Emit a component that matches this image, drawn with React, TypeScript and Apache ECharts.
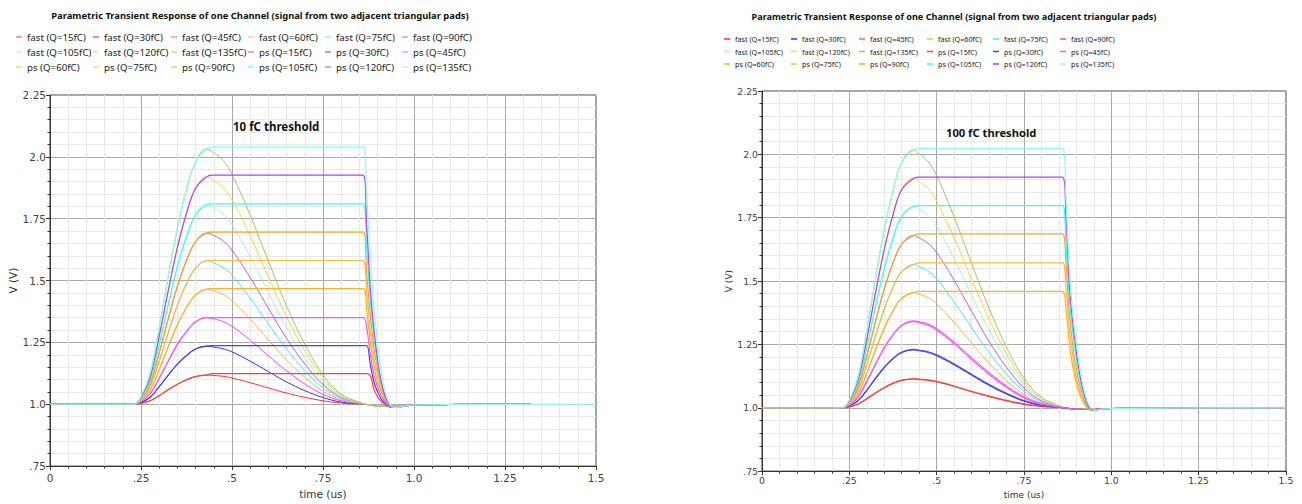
import React, { useEffect, useRef } from 'react';
import * as echarts from 'echarts';

// ---------- labels ----------
const seriesNames = [
  'fast (Q=15fC)', 'fast (Q=30fC)', 'fast (Q=45fC)', 'fast (Q=60fC)', 'fast (Q=75fC)', 'fast (Q=90fC)',
  'fast (Q=105fC)', 'fast (Q=120fC)', 'fast (Q=135fC)',
  'ps (Q=15fC)', 'ps (Q=30fC)', 'ps (Q=45fC)', 'ps (Q=60fC)', 'ps (Q=75fC)', 'ps (Q=90fC)',
  'ps (Q=105fC)', 'ps (Q=120fC)', 'ps (Q=135fC)',
];
const seriesColors = [
  '#ff3030', '#3030ff', '#ff40ff', '#ffb347', '#40eeee', '#b060f0', '#a8f2d6', '#ffd040', '#99c864',
  '#ff4040', '#4040ff', '#ff50ff', '#ffb020', '#ffb83c', '#ffa418', '#30ffff', '#b040ff', '#90ffd8',
];
const titleText = 'Parametric Transient Response of one Channel (signal from two adjacent triangular pads)';
const notes = ['10 fC threshold', '100 fC threshold'];
const xTickLabels = ['0', '.25', '.5', '.75', '1.0', '1.25', '1.5'];
const yTickLabels = ['.75', '1.0', '1.25', '1.5', '1.75', '2.0', '2.25'];
const xName = 'time (us)';
const yName = 'V (V)';

// ---------- left panel (10 fC threshold) ----------
const tFastL = [0, 0.23, 0.25, 0.275, 0.3, 0.325, 0.35, 0.375, 0.4, 0.43, 0.45, 0.475, 0.5, 0.55, 0.6, 0.65, 0.7, 0.75, 0.8, 0.85, 0.875, 0.9, 0.95, 1.0, 1.1, 1.32];
const fast15L = [1, 1, 1.004, 1.014, 1.035, 1.059, 1.081, 1.099, 1.112, 1.118, 1.116, 1.113, 1.106, 1.087, 1.066, 1.045, 1.028, 1.014, 1.005, 1.001, 0.998, 0.993, 0.992, 0.996, 0.999, 1.0];
const fast30L = [1, 1, 1.007, 1.028, 1.071, 1.118, 1.162, 1.197, 1.223, 1.235, 1.231, 1.224, 1.212, 1.174, 1.132, 1.09, 1.055, 1.027, 1.009, 1.002, 0.998, 0.993, 0.992, 0.996, 0.999, 1.0];
const fast45L = [1, 1, 1.011, 1.042, 1.105, 1.175, 1.242, 1.294, 1.333, 1.35, 1.345, 1.334, 1.315, 1.259, 1.196, 1.135, 1.082, 1.04, 1.014, 1.003, 0.998, 0.993, 0.992, 0.996, 0.999, 1.0];
const fast60L = [1, 1, 1.014, 1.056, 1.14, 1.233, 1.321, 1.391, 1.442, 1.465, 1.458, 1.444, 1.419, 1.344, 1.26, 1.179, 1.109, 1.053, 1.019, 1.004, 0.998, 0.993, 0.992, 0.996, 0.999, 1.0];
const fast75L = [1, 1, 1.017, 1.07, 1.174, 1.29, 1.4, 1.487, 1.551, 1.58, 1.571, 1.554, 1.522, 1.429, 1.325, 1.223, 1.136, 1.067, 1.023, 1.005, 0.998, 0.993, 0.992, 0.996, 0.999, 1.0];
const fast90L = [1, 1, 1.021, 1.083, 1.208, 1.346, 1.477, 1.581, 1.657, 1.692, 1.682, 1.661, 1.623, 1.512, 1.388, 1.266, 1.163, 1.08, 1.028, 1.006, 0.998, 0.993, 0.992, 0.996, 0.999, 1.0];
const fast105L = [1, 1, 1.024, 1.097, 1.242, 1.403, 1.556, 1.677, 1.766, 1.806, 1.794, 1.77, 1.725, 1.596, 1.451, 1.31, 1.189, 1.093, 1.032, 1.006, 0.998, 0.993, 0.992, 0.996, 0.999, 1.0];
const fast120L = [1, 1, 1.028, 1.11, 1.276, 1.46, 1.634, 1.772, 1.873, 1.919, 1.905, 1.878, 1.827, 1.68, 1.515, 1.354, 1.216, 1.106, 1.037, 1.007, 0.998, 0.993, 0.992, 0.996, 0.999, 1.0];
const fast135L = [1, 1, 1.031, 1.124, 1.31, 1.516, 1.712, 1.867, 1.98, 2.032, 2.017, 1.986, 1.929, 1.764, 1.578, 1.397, 1.243, 1.119, 1.041, 1.008, 0.998, 0.993, 0.992, 0.996, 0.999, 1.0];

const tPsL = [0, 0.23, 0.25, 0.275, 0.3, 0.325, 0.35, 0.375, 0.4, 0.43, 0.445, 0.86, 0.87, 0.88, 0.89, 0.9, 0.91, 0.92, 0.93, 0.94, 0.95, 0.97, 1.0, 1.1, 1.32];
const tPsL135 = [0, 0.23, 0.25, 0.275, 0.3, 0.325, 0.35, 0.375, 0.4, 0.43, 0.445, 0.86, 0.87, 0.88, 0.89, 0.9, 0.91, 0.92, 0.93, 0.94, 0.95, 0.97, 1.0, 1.1, 1.5];
const ps15L = [1, 1, 1.004, 1.014, 1.035, 1.059, 1.081, 1.099, 1.112, 1.118, 1.124, 1.124, 1.124, 1.115, 1.06, 1.03, 1.012, 1.0, 0.99, 0.987, 0.987, 0.992, 0.997, 0.999, 1.0];
const ps30L = [1, 1, 1.007, 1.028, 1.071, 1.118, 1.162, 1.197, 1.223, 1.235, 1.237, 1.237, 1.237, 1.16, 1.09, 1.05, 1.022, 1.006, 0.993, 0.987, 0.987, 0.992, 0.997, 0.999, 1.0];
const ps45L = [1, 1, 1.011, 1.042, 1.105, 1.175, 1.242, 1.294, 1.333, 1.35, 1.35, 1.35, 1.31, 1.2, 1.12, 1.07, 1.035, 1.012, 0.995, 0.987, 0.987, 0.992, 0.997, 0.999, 1.0];
const ps60L = [1, 1, 1.014, 1.056, 1.14, 1.233, 1.321, 1.391, 1.442, 1.465, 1.467, 1.467, 1.38, 1.25, 1.155, 1.09, 1.048, 1.02, 0.998, 0.988, 0.987, 0.992, 0.997, 0.999, 1.0];
const ps75L = [1, 1, 1.017, 1.07, 1.174, 1.29, 1.4, 1.487, 1.551, 1.58, 1.581, 1.581, 1.45, 1.3, 1.19, 1.115, 1.06, 1.025, 1.0, 0.988, 0.987, 0.992, 0.997, 0.999, 1.0];
const ps90L = [1, 1, 1.021, 1.083, 1.208, 1.346, 1.477, 1.581, 1.657, 1.692, 1.696, 1.696, 1.53, 1.36, 1.23, 1.14, 1.075, 1.03, 1.002, 0.988, 0.987, 0.992, 0.997, 0.999, 1.0];
const ps105L = [1, 1, 1.024, 1.097, 1.242, 1.403, 1.556, 1.677, 1.766, 1.806, 1.81, 1.81, 1.62, 1.42, 1.27, 1.165, 1.085, 1.035, 1.005, 0.989, 0.987, 0.992, 0.997, 0.999, 1.0];
const ps120L = [1, 1, 1.028, 1.11, 1.276, 1.46, 1.634, 1.772, 1.873, 1.919, 1.926, 1.926, 1.72, 1.47, 1.3, 1.18, 1.09, 1.035, 1.003, 0.988, 0.987, 0.992, 0.997, 0.999, 1.0];
const ps135L = [1, 1, 1.031, 1.124, 1.31, 1.516, 1.712, 1.867, 1.98, 2.032, 2.04, 2.04, 1.84, 1.6, 1.39, 1.245, 1.135, 1.055, 1.01, 0.99, 0.987, 0.992, 0.997, 0.999, 1.0];

// ---------- right panel (100 fC threshold) ----------
const tFastR = [0, 0.23, 0.25, 0.275, 0.3, 0.325, 0.35, 0.375, 0.4, 0.435, 0.45, 0.475, 0.5, 0.55, 0.6, 0.65, 0.7, 0.75, 0.8, 0.85, 0.875, 0.9, 0.95, 1.0, 1.2, 1.5];
const fast15R = [1, 1, 1.003, 1.014, 1.034, 1.057, 1.078, 1.095, 1.107, 1.113, 1.111, 1.108, 1.102, 1.084, 1.063, 1.044, 1.027, 1.013, 1.005, 1.001, 0.998, 0.994, 0.993, 0.997, 0.999, 1.0];
const fast30R = [1, 1, 1.007, 1.027, 1.068, 1.114, 1.157, 1.192, 1.217, 1.228, 1.225, 1.218, 1.205, 1.169, 1.128, 1.088, 1.054, 1.026, 1.009, 1.002, 0.998, 0.994, 0.993, 0.997, 0.999, 1.0];
const fast45R = [1, 1, 1.01, 1.041, 1.102, 1.17, 1.235, 1.286, 1.323, 1.34, 1.335, 1.325, 1.306, 1.252, 1.19, 1.131, 1.08, 1.039, 1.014, 1.003, 0.998, 0.994, 0.993, 0.997, 0.999, 1.0];
const fast60R = [1, 1, 1.014, 1.055, 1.137, 1.228, 1.314, 1.382, 1.432, 1.455, 1.448, 1.435, 1.41, 1.337, 1.255, 1.175, 1.107, 1.052, 1.018, 1.004, 0.998, 0.994, 0.993, 0.997, 0.999, 1.0];
const fast75R = [1, 1, 1.017, 1.068, 1.17, 1.283, 1.39, 1.475, 1.537, 1.565, 1.557, 1.54, 1.509, 1.418, 1.316, 1.218, 1.133, 1.065, 1.023, 1.005, 0.998, 0.994, 0.993, 0.997, 0.999, 1.0];
const fast90R = [1, 1, 1.02, 1.082, 1.204, 1.34, 1.469, 1.571, 1.646, 1.68, 1.67, 1.649, 1.612, 1.503, 1.381, 1.262, 1.16, 1.078, 1.027, 1.005, 0.998, 0.994, 0.993, 0.997, 0.999, 1.0];
const fast105R = [1, 1, 1.024, 1.095, 1.239, 1.398, 1.549, 1.668, 1.755, 1.795, 1.783, 1.759, 1.716, 1.588, 1.445, 1.306, 1.187, 1.091, 1.032, 1.006, 0.998, 0.994, 0.993, 0.997, 0.999, 1.0];
const fast120R = [1, 1, 1.027, 1.109, 1.272, 1.453, 1.625, 1.761, 1.861, 1.906, 1.892, 1.865, 1.815, 1.67, 1.507, 1.349, 1.213, 1.104, 1.036, 1.007, 0.998, 0.994, 0.993, 0.997, 0.999, 1.0];
const fast135R = [1, 1, 1.031, 1.122, 1.305, 1.509, 1.702, 1.855, 1.967, 2.018, 2.003, 1.972, 1.916, 1.753, 1.57, 1.392, 1.239, 1.117, 1.041, 1.008, 0.998, 0.994, 0.993, 0.997, 0.999, 1.0];

const tPsLowR = [0.2, 0.23, 0.25, 0.275, 0.3, 0.325, 0.35, 0.375, 0.4, 0.435, 0.45, 0.475, 0.5, 0.55, 0.6, 0.65, 0.7, 0.75, 0.8, 0.85, 0.875, 0.9, 0.95, 1.0, 1.2, 1.5];
const ps15R = [1, 1, 1.004, 1.015, 1.036, 1.059, 1.08, 1.097, 1.109, 1.115, 1.113, 1.11, 1.104, 1.086, 1.065, 1.046, 1.029, 1.015, 1.006, 1.001, 0.998, 0.994, 0.993, 0.997, 0.999, 1.0];
const ps30R = [1, 1, 1.008, 1.029, 1.07, 1.117, 1.16, 1.195, 1.22, 1.23, 1.227, 1.221, 1.209, 1.173, 1.132, 1.092, 1.057, 1.028, 1.01, 1.002, 0.998, 0.994, 0.993, 0.997, 0.999, 1.0];
const ps45R = [1, 1, 1.011, 1.043, 1.105, 1.173, 1.238, 1.289, 1.326, 1.343, 1.339, 1.33, 1.312, 1.258, 1.197, 1.137, 1.085, 1.042, 1.015, 1.003, 0.998, 0.994, 0.993, 0.997, 0.999, 1.0];
const tPsR = [0.2, 0.23, 0.25, 0.275, 0.3, 0.325, 0.35, 0.375, 0.4, 0.435, 0.45, 0.86, 0.87, 0.88, 0.89, 0.9, 0.91, 0.92, 0.93, 0.94, 0.95, 0.97, 1.0, 1.2, 1.5];
const ps60R = [1, 1, 1.014, 1.055, 1.137, 1.228, 1.314, 1.382, 1.432, 1.455, 1.459, 1.459, 1.39, 1.25, 1.16, 1.095, 1.05, 1.02, 1.0, 0.991, 0.99, 0.994, 0.997, 0.999, 1.0];
const ps75R = [1, 1, 1.017, 1.068, 1.17, 1.283, 1.39, 1.475, 1.537, 1.565, 1.572, 1.572, 1.48, 1.31, 1.2, 1.12, 1.065, 1.03, 1.005, 0.992, 0.99, 0.994, 0.997, 0.999, 1.0];
const ps90R = [1, 1, 1.02, 1.082, 1.204, 1.34, 1.469, 1.571, 1.646, 1.68, 1.686, 1.686, 1.57, 1.37, 1.24, 1.15, 1.085, 1.04, 1.01, 0.993, 0.99, 0.994, 0.997, 0.999, 1.0];
const ps105R = [1, 1, 1.024, 1.095, 1.239, 1.398, 1.549, 1.668, 1.755, 1.795, 1.798, 1.798, 1.65, 1.43, 1.29, 1.19, 1.11, 1.055, 1.015, 0.995, 0.99, 0.994, 0.997, 0.999, 1.0];
const ps120R = [1, 1, 1.027, 1.109, 1.272, 1.453, 1.625, 1.761, 1.861, 1.906, 1.91, 1.91, 1.76, 1.48, 1.33, 1.22, 1.13, 1.065, 1.02, 0.996, 0.99, 0.994, 0.997, 0.999, 1.0];
const ps135R = [1, 1, 1.031, 1.122, 1.305, 1.509, 1.702, 1.855, 1.967, 2.018, 2.023, 2.023, 1.83, 1.54, 1.37, 1.255, 1.155, 1.08, 1.03, 1.0, 0.99, 0.994, 0.997, 0.999, 1.0];

// time array + values for each of the 18 series, per panel (order = seriesNames)
const panelSeries = [
  [
    [tFastL, fast15L], [tFastL, fast30L], [tFastL, fast45L], [tFastL, fast60L], [tFastL, fast75L],
    [tFastL, fast90L], [tFastL, fast105L], [tFastL, fast120L], [tFastL, fast135L],
    [tPsL, ps15L], [tPsL, ps30L], [tPsL, ps45L], [tPsL, ps60L], [tPsL, ps75L], [tPsL, ps90L],
    [tPsL, ps105L], [tPsL, ps120L], [tPsL135, ps135L],
  ],
  [
    [tFastR, fast15R], [tFastR, fast30R], [tFastR, fast45R], [tFastR, fast60R], [tFastR, fast75R],
    [tFastR, fast90R], [tFastR, fast105R], [tFastR, fast120R], [tFastR, fast135R],
    [tPsLowR, ps15R], [tPsLowR, ps30R], [tPsLowR, ps45R], [tPsR, ps60R], [tPsR, ps75R], [tPsR, ps90R],
    [tPsR, ps105R], [tPsR, ps120R], [tPsR, ps135R],
  ],
];

// ---------- layout ----------
const layout = [
  {
    grid: { left: 50, top: 95, width: 546, height: 372 },
    labelSize: 10.5, nameSize: 10.5, xLabelMargin: 6, yLabelMargin: 4, xNameGap: 19, yNameGap: 28,
    legendX: [16, 93, 171, 248, 325, 402], legendTop: 31, legendFont: 9.7, legendLH: 12, legendGap: 3,
    legendIconW: 6, legendIconOpacity: 0.65,
    titleX: 260, titleY: 15, titleSize: 9.4,
    noteX: 233, noteY: 126, noteSize: 11.5,
  },
  {
    grid: { left: 762, top: 91, width: 524, height: 385 },
    labelSize: 9.3, nameSize: 9, xLabelMargin: 5, yLabelMargin: 4, xNameGap: 16, yNameGap: 25,
    legendX: [724, 791, 859, 927, 993, 1060], legendTop: 34, legendFont: 7.2, legendLH: 10, legendGap: 2.5,
    legendIconW: 6, legendIconOpacity: 1,
    titleX: 954, titleY: 16, titleSize: 9.1,
    noteX: 946, noteY: 132, noteSize: 11.2,
  },
];

const AXIS_FONT = 'DejaVu Sans';
const TEXT_FONT = 'Noto Sans';

function buildOption() {
  const grids: any[] = [];
  const xAxes: any[] = [];
  const yAxes: any[] = [];
  const series: any[] = [];
  const legends: any[] = [];
  const graphics: any[] = [];

  layout.forEach((p, pi) => {
    grids.push({ ...p.grid, show: true, borderColor: '#444', borderWidth: 1, backgroundColor: '#fff' });
    const common = {
      gridIndex: pi,
      type: 'value',
      nameLocation: 'middle',
      nameTextStyle: { fontFamily: AXIS_FONT, fontSize: p.nameSize, color: '#333' },
      axisLine: { show: true, onZero: false, lineStyle: { color: '#333', width: 1 } },
      axisTick: { show: true, length: 4, lineStyle: { color: '#333', width: 1 } },
      minorTick: { show: true, splitNumber: 5, length: 2.5, lineStyle: { color: '#333', width: 1 } },
      splitLine: { show: true, lineStyle: { color: '#a9a9a9', width: 1 } },
      minorSplitLine: { show: true, lineStyle: { color: '#e8e8e8', width: 1 } },
    };
    xAxes.push({
      ...common,
      min: 0, max: 1.5, interval: 0.25,
      name: xName, nameGap: p.xNameGap,
      axisLabel: {
        fontFamily: AXIS_FONT, fontSize: p.labelSize, color: '#444', margin: p.xLabelMargin,
        formatter: (v: number) => xTickLabels[Math.round(v / 0.25)] ?? '',
      },
    });
    yAxes.push({
      ...common,
      min: 0.75, max: 2.25, interval: 0.25,
      name: yName, nameGap: p.yNameGap,
      axisLabel: {
        fontFamily: AXIS_FONT, fontSize: p.labelSize, color: '#444', margin: p.yLabelMargin,
        formatter: (v: number) => yTickLabels[Math.round((v - 0.75) / 0.25)] ?? '',
      },
    });

    panelSeries[pi].forEach(([t, v], si) => {
      const color = seriesColors[si];
      series.push({
        type: 'line',
        name: seriesNames[si],
        xAxisIndex: pi,
        yAxisIndex: pi,
        data: (t as number[]).map((x, i) => [x, (v as number[])[i]]),
        showSymbol: false,
        symbol: 'none',
        smooth: 0.4,
        silent: true,
        lineStyle: { color, width: si >= 9 ? 1.2 : 1 },
        itemStyle: { color },
        z: si >= 9 ? 3 : 2,
      });
    });

    for (let c = 0; c < 6; c++) {
      legends.push({
        orient: 'vertical',
        left: p.legendX[c],
        top: p.legendTop,
        padding: 0,
        itemGap: p.legendGap,
        itemWidth: p.legendIconW,
        itemHeight: 1.5,
        icon: 'rect',
        selectedMode: false,
        itemStyle: { opacity: p.legendIconOpacity },
        data: [seriesNames[c], seriesNames[6 + c], seriesNames[12 + c]],
        textStyle: { fontFamily: TEXT_FONT, fontSize: p.legendFont, color: '#222', lineHeight: p.legendLH },
      });
    }

    graphics.push({
      type: 'text',
      x: p.titleX,
      y: p.titleY,
      style: {
        text: titleText,
        align: 'center', verticalAlign: 'middle',
        textAlign: 'center', textVerticalAlign: 'middle',
        font: `bold ${p.titleSize}px "${TEXT_FONT}"`,
        fill: '#111',
      },
    });
    graphics.push({
      type: 'text',
      x: p.noteX,
      y: p.noteY,
      z: 100,
      style: {
        text: notes[pi],
        align: 'left', verticalAlign: 'middle',
        textAlign: 'left', textVerticalAlign: 'middle',
        font: `bold ${p.noteSize}px "${TEXT_FONT}"`,
        fill: '#111',
      },
    });
  });

  return {
    animation: false,
    backgroundColor: '#fff',
    grid: grids,
    xAxis: xAxes,
    yAxis: yAxes,
    legend: legends,
    series,
    graphic: graphics,
  };
}

export default function App() {
  const ref = useRef<HTMLDivElement>(null);
  useEffect(() => {
    if (!ref.current) return;
    const chart = echarts.init(ref.current, null, { renderer: 'svg' });
    chart.setOption(buildOption() as any);
    return () => chart.dispose();
  }, []);
  return (
    <div
      ref={ref}
      style={{ position: 'absolute', left: 0, top: 0, width: 1302, height: 504, background: '#fff' }}
    />
  );
}
